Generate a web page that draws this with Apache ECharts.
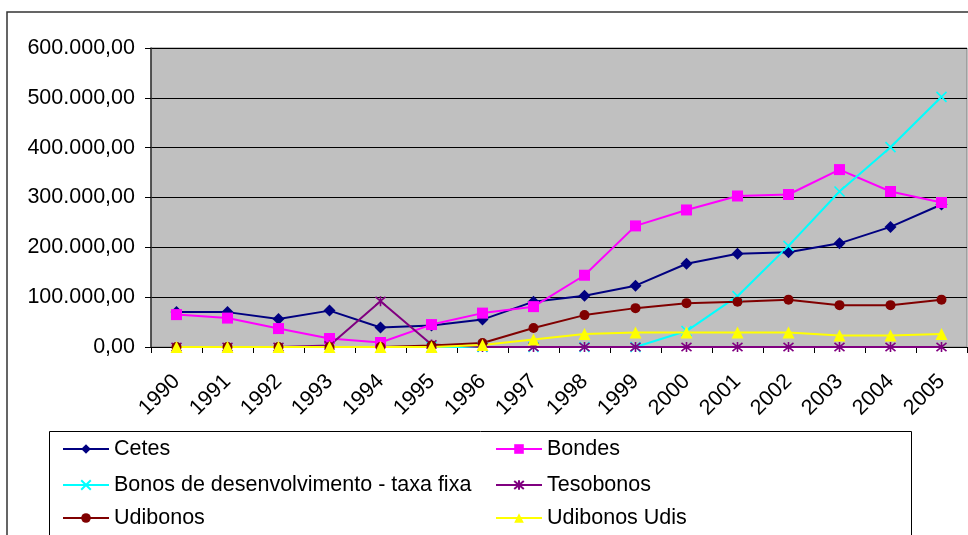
<!DOCTYPE html>
<html>
<head>
<meta charset="utf-8">
<script src="https://cdn.jsdelivr.net/npm/echarts@6/dist/echarts.min.js"></script>
<style>
html,body{margin:0;padding:0;background:#fff;}
#chart{width:968px;height:535px;}
</style>
</head>
<body>
<div id="chart"></div>
<script>
const years = ['1990','1991','1992','1993','1994','1995','1996','1997','1998','1999','2000','2001','2002','2003','2004','2005'];
const cetes = [70000,70000,56000,73000,39000,43000,55000,91000,103000,123000,167000,187000,190000,208000,241000,286000];
const bondes = [65000,58000,37000,17000,9000,45000,68000,81000,144000,243000,275000,303000,306000,356000,312000,290000];
const bonosDesenv = [null,null,null,null,null,0,0,0,0,0,32000,102000,203000,312000,401000,502000];
const tesobonos = [0,0,0,3000,92000,5000,0,0,0,0,0,0,0,0,0,0];
const udibonos = [0,0,0,0,0,3000,8000,38000,64000,78000,88000,91000,95000,84000,84000,95000];
const udibonosUdis = [0,0,0,0,0,0,4000,15000,26000,29000,29000,29000,29000,23000,23000,26000];
const yTicks = [0,100000,200000,300000,400000,500000,600000];

const FONT = "'Liberation Sans', Arial, sans-serif";
function fmt(v){
  const s = Math.round(v).toString().replace(/\B(?=(\d{3})+(?!\d))/g,'.');
  return s + ',00';
}
const chart = echarts.init(document.getElementById('chart'));
const X_PATH = 'path://M0,0L10,10M10,0L0,10';
const STAR_PATH = 'path://M0,0L10,10M10,0L0,10M5,-1L5,11';

function mk(name, data, color, symbol, size, stroke){
  return {
    name, type:'line', data, color,
    symbol, symbolSize:size, showAllSymbol:true,
    lineStyle:{color, width:2},
    itemStyle:{color, borderColor:color, borderWidth: stroke?1.6:0},
    emphasis:{disabled:true},
    animation:false
  };
}
const names = ['Cetes','Bondes','Bonos de desenvolvimento - taxa fixa','Tesobonos','Udibonos','Udibonos Udis'];
const legendPos = [
  [62,438],[495,438],[62,474],[495,474],[62,507],[495,507]
];
const legends = names.map((n,i)=>({
  data:[n], left:legendPos[i][0], top:legendPos[i][1], padding:0,
  itemWidth:46, itemHeight:12, selectedMode:false,
  textStyle:{fontFamily:FONT, fontSize:21.5, color:'#000'}
}));

chart.setOption({
  backgroundColor:'#fff',
  animation:false,
  textStyle:{fontFamily:FONT},
  grid:{left:151, top:48, right:1, bottom:188, show:true, backgroundColor:'#C0C0C0', borderColor:'#808080', borderWidth:1},
  legend: legends,
  xAxis:{
    type:'category', data:years, boundaryGap:true,
    axisLine:{lineStyle:{color:'#000', width:1}},
    axisTick:{show:true, interval:0, length:6, lineStyle:{color:'#000'}},
    axisLabel:{interval:0, rotate:45, margin:31, fontSize:21.5, color:'#000', fontFamily:FONT},
    splitLine:{show:false}
  },
  yAxis:{
    type:'value', min:yTicks[0], max:yTicks[yTicks.length-1], interval:yTicks[1]-yTicks[0],
    axisLine:{show:true, lineStyle:{color:'#333', width:1.5}},
    axisTick:{show:true, length:6, lineStyle:{color:'#000'}},
    axisLabel:{formatter:fmt, fontSize:21.5, color:'#000', margin:16, fontFamily:FONT},
    splitLine:{show:true, lineStyle:{color:'#000', width:1}}
  },
  graphic:[
    {type:'rect', shape:{x:7, y:12, width:1000, height:600}, style:{fill:'none', stroke:'#333', lineWidth:1.5}, silent:true, z:-1},
    {type:'rect', shape:{x:49.5, y:431.5, width:862, height:200}, style:{fill:'none', stroke:'#000', lineWidth:1}, silent:true}
  ],
  series:[
    mk(names[0], cetes, '#000080', 'diamond', 12, false),
    mk(names[1], bondes, '#FF00FF', 'rect', 11, false),
    mk(names[2], bonosDesenv, '#00FFFF', X_PATH, 10, true),
    mk(names[3], tesobonos, '#800080', STAR_PATH, 10, true),
    mk(names[4], udibonos, '#800000', 'circle', 10, false),
    mk(names[5], udibonosUdis, '#FFFF00', 'triangle', 12, false)
  ]
});
</script>
</body>
</html>
